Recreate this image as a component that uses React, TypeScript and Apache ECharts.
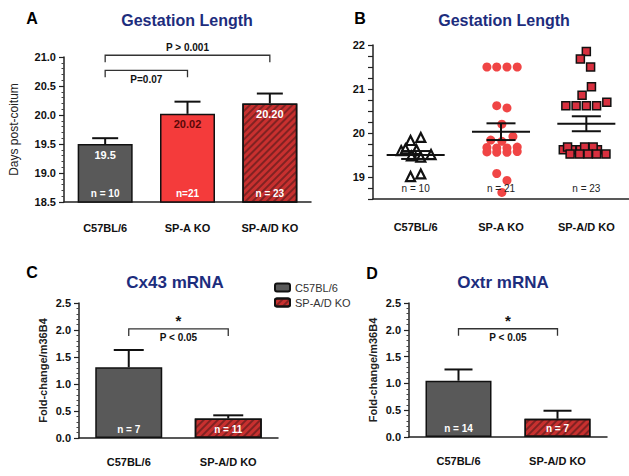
import React, { useEffect, useRef } from 'react';
import * as echarts from 'echarts';

// ---------- Data ----------
const gestCategories = ['C57BL/6', 'SP-A KO', 'SP-A/D KO'];
const gestMeans = [19.5, 20.02, 20.2];
const gestSem = [0.1, 0.21, 0.17];
const gestValueLabels = ['19.5', '20.02', '20.20'];
const gestNLabels = ['n = 10', 'n=21', 'n = 23'];

// Panel B: individual pups [jitter offset from category centre, days]
const wtPoints = [
  [-0.06, 19.83], [0.06, 19.9], [-0.17, 19.6], [-0.12, 19.64], [0.01, 19.62],
  [-0.05, 19.48], [0.06, 19.45], [0.18, 19.51], [-0.06, 19.01], [0.06, 19.07],
];
const spaPoints = [
  [-0.165, 21.5], [-0.05, 21.5], [0.07, 21.5], [0.19, 21.5],
  [-0.05, 20.62], [0.07, 20.57], [0.01, 20.2],
  [0.14, 19.92], [-0.12, 19.84], [0.01, 19.81],
  [-0.165, 19.67], [-0.05, 19.66], [0.07, 19.66], [0.19, 19.68],
  [-0.165, 19.57], [-0.05, 19.56], [0.07, 19.56], [0.19, 19.58],
  [-0.05, 19.08], [0.07, 18.92], [0.01, 18.65],
];
const spadPoints = [
  [0.0, 21.85], [-0.07, 21.68], [0.05, 21.5],
  [0.06, 21.05], [-0.05, 20.86],
  [-0.24, 20.62], [-0.12, 20.62], [0.0, 20.62], [0.12, 20.62], [0.24, 20.7],
  [-0.27, 19.62], [-0.17, 19.62], [-0.07, 19.62], [0.02, 19.62], [0.13, 19.62],
  [-0.22, 19.68], [-0.02, 19.68], [0.08, 19.68],
  [-0.19, 19.52], [-0.08, 19.52], [0.02, 19.52], [0.12, 19.52], [0.23, 19.52],
];
const scatterMeans = [19.5, 20.03, 20.21];
const scatterSem = [0.09, 0.19, 0.17];
const scatterNLabels = ['n = 10', 'n = 21', 'n = 23'];

const mrnaCategories = ['C57BL/6', 'SP-A/D KO'];
const cx43Means = [1.31, 0.36];
const cx43Sem = [0.32, 0.06];
const cx43NLabels = ['n = 7', 'n = 11'];
const oxtrMeans = [1.05, 0.34];
const oxtrSem = [0.21, 0.15];
const oxtrNLabels = ['n = 14', 'n = 7'];

// ---------- Styles ----------
const FONT = '"Liberation Sans", Arial, sans-serif';
const NAVY = '#1d2d7d';
const GRAY = '#595959';
const RED = '#f43b3b';
const HATCH_BASE = '#c8302f';
const hatchDecal = {
  symbol: 'rect',
  symbolSize: 1,
  color: 'rgba(80,25,25,0.6)',
  dashArrayX: [1, 0],
  dashArrayY: [2, 3],
  rotation: -Math.PI / 4,
};

const errRender = (capPx: number) => (params: any, api: any) => {
  const x = api.value(0), m = api.value(1), e = api.value(2);
  const p0 = api.coord([x, m]);
  const p1 = api.coord([x, m + e]);
  const st = { stroke: '#111', lineWidth: 2 };
  return {
    type: 'group',
    children: [
      { type: 'line', shape: { x1: p0[0], y1: p0[1], x2: p1[0], y2: p1[1] }, style: st },
      { type: 'line', shape: { x1: p1[0] - capPx / 2, y1: p1[1], x2: p1[0] + capPx / 2, y2: p1[1] }, style: st },
    ],
  };
};

const textRender = (labels: string[], color: string, size: number, weight: string) => (params: any, api: any) => {
  const p = api.coord([api.value(0), api.value(1)]);
  return {
    type: 'text',
    x: p[0],
    y: p[1],
    style: {
      text: labels[params.dataIndex],
      fill: color,
      font: `${weight} ${size}px ${FONT}`,
      align: 'center',
      verticalAlign: 'middle',
    },
  };
};

const bracketRender = (texts: string[], below: boolean[], star: boolean) => (params: any, api: any) => {
  const i = params.dataIndex;
  const a = api.coord([api.value(0), api.value(2)]);
  const b = api.coord([api.value(1), api.value(2)]);
  const tick = 7;
  const mid = (a[0] + b[0]) / 2;
  const children: any[] = [
    {
      type: 'polyline',
      shape: { points: [[a[0], a[1] + tick], [a[0], a[1]], [b[0], b[1]], [b[0], b[1] + tick]] },
      style: { stroke: '#333', lineWidth: 1.3, fill: null },
    },
    {
      type: 'text',
      x: mid,
      y: below[i] ? a[1] + 9 : a[1] - 8,
      style: { text: texts[i], fill: '#111', font: `bold 10px ${FONT}`, align: 'center', verticalAlign: 'middle' },
    },
  ];
  if (star) {
    children.push({
      type: 'text',
      x: mid,
      y: a[1] - 8,
      style: { text: '*', fill: '#111', font: `bold 15px ${FONT}`, align: 'center', verticalAlign: 'middle' },
    });
  }
  return { type: 'group', children };
};

const meanRender = (params: any, api: any) => {
  const x = api.value(0), m = api.value(1), s = api.value(2);
  const L = api.coord([x - 0.34, m]);
  const R = api.coord([x + 0.34, m]);
  const T = api.coord([x, m + s]);
  const B = api.coord([x, m - s]);
  const tl = api.coord([x - 0.17, m + s]);
  const tr = api.coord([x + 0.17, m + s]);
  const bl = api.coord([x - 0.17, m - s]);
  const br = api.coord([x + 0.17, m - s]);
  const st = { stroke: '#111', lineWidth: 2 };
  return {
    type: 'group',
    children: [
      { type: 'line', shape: { x1: L[0], y1: L[1], x2: R[0], y2: R[1] }, style: st },
      { type: 'line', shape: { x1: T[0], y1: T[1], x2: B[0], y2: B[1] }, style: st },
      { type: 'line', shape: { x1: tl[0], y1: tl[1], x2: tr[0], y2: tr[1] }, style: st },
      { type: 'line', shape: { x1: bl[0], y1: bl[1], x2: br[0], y2: br[1] }, style: st },
    ],
  };
};

const axisLineStyle = { onZero: false, lineStyle: { color: '#222', width: 1.5 } };

const catAxis = (gridIndex: number, data: string[], margin: number) => ({
  type: 'category',
  gridIndex,
  data,
  axisLine: axisLineStyle,
  axisTick: { alignWithLabel: true, length: 5, lineStyle: { color: '#222', width: 1.2 } },
  axisLabel: { fontWeight: 'bold', fontSize: 11, color: '#111', margin, fontFamily: FONT },
});

const valAxis = (gridIndex: number, min: number, max: number, interval: number, name: string, nameGap: number, fmt: (v: number) => string, minorSplit: number) => ({
  type: 'value',
  gridIndex,
  min,
  max,
  interval,
  name,
  nameLocation: 'middle',
  nameGap,
  nameTextStyle: { fontSize: name === 'Days post-coitum' ? 12 : 11, color: '#222', fontFamily: FONT, fontWeight: name === 'Days post-coitum' ? 'normal' : 'bold' },
  axisLine: { show: true, ...axisLineStyle },
  axisTick: { show: true, length: 5, lineStyle: { color: '#222', width: 1.2 } },
  minorTick: { show: minorSplit > 0, splitNumber: minorSplit || 5, length: 2.5, lineStyle: { color: '#444', width: 1 } },
  splitLine: { show: false },
  axisLabel: { fontWeight: 'bold', fontSize: 11, color: '#111', margin: 8, fontFamily: FONT, formatter: fmt },
});

export default function App() {
  const ref = useRef<HTMLDivElement>(null);
  useEffect(() => {
    if (!ref.current) return;
    const chart = echarts.init(ref.current, undefined, { renderer: 'svg' });
    const fmt1 = (v: number) => v.toFixed(1);
    const fmtInt = (v: number) => (Math.abs(v - Math.round(v)) < 1e-6 ? String(Math.round(v)) : '');

    const option: any = {
      animation: false,
      backgroundColor: '#fff',
      textStyle: { fontFamily: FONT },
      legend: {
        data: ['C57BL/6', 'SP-A/D KO'],
        orient: 'vertical',
        left: 269,
        top: 277,
        itemWidth: 15,
        itemHeight: 8,
        itemGap: 4,
        selectedMode: false,
        textStyle: { fontSize: 11, color: '#333', fontFamily: FONT },
      },
      graphic: [
        { type: 'text', x: 32, y: 18, style: { text: 'A', font: `bold 16px ${FONT}`, fill: '#000', align: 'center', verticalAlign: 'middle' } },
        { type: 'text', x: 187, y: 20, style: { text: 'Gestation Length', font: `bold 16px ${FONT}`, fill: NAVY, align: 'center', verticalAlign: 'middle' } },
        { type: 'text', x: 360, y: 18, style: { text: 'B', font: `bold 16px ${FONT}`, fill: '#000', align: 'center', verticalAlign: 'middle' } },
        { type: 'text', x: 504, y: 20, style: { text: 'Gestation Length', font: `bold 16px ${FONT}`, fill: NAVY, align: 'center', verticalAlign: 'middle' } },
        { type: 'text', x: 32, y: 272, style: { text: 'C', font: `bold 16px ${FONT}`, fill: '#000', align: 'center', verticalAlign: 'middle' } },
        { type: 'text', x: 175, y: 282, style: { text: 'Cx43 mRNA', font: `bold 17px ${FONT}`, fill: NAVY, align: 'center', verticalAlign: 'middle' } },
        { type: 'text', x: 372, y: 273, style: { text: 'D', font: `bold 16px ${FONT}`, fill: '#000', align: 'center', verticalAlign: 'middle' } },
        { type: 'text', x: 503, y: 282, style: { text: 'Oxtr mRNA', font: `bold 17px ${FONT}`, fill: NAVY, align: 'center', verticalAlign: 'middle' } },
      ],
      grid: [
        { left: 64, top: 57, width: 247, height: 145 },
        { left: 373, top: 45, width: 258, height: 154 },
        { left: 79, top: 303, width: 199, height: 135 },
        { left: 409, top: 303, width: 198, height: 134 },
      ],
      xAxis: [
        catAxis(0, gestCategories, 20),
        catAxis(1, gestCategories, 22),
        { type: 'value', gridIndex: 1, min: -0.5, max: 2.5, show: false, axisLine: { onZero: false } },
        catAxis(2, mrnaCategories, 18),
        catAxis(3, mrnaCategories, 18),
      ],
      yAxis: [
        valAxis(0, 18.5, 21, 0.5, 'Days post-coitum', 44, fmt1, 5),
        valAxis(1, 18.5, 22, 0.25, '', 30, fmtInt, 0),
        valAxis(2, 0, 2.5, 0.5, 'Fold-change/m36B4', 31, fmt1, 5),
        valAxis(3, 0, 2.5, 0.5, 'Fold-change/m36B4', 31, fmt1, 5),
      ],
      series: [
        // ----- Panel A -----
        {
          type: 'bar',
          name: 'gestA',
          xAxisIndex: 0,
          yAxisIndex: 0,
          barWidth: 55,
          data: gestMeans.map((v, i) => ({
            value: v,
            itemStyle:
              i === 0
                ? { color: GRAY, borderColor: '#111', borderWidth: 1.5 }
                : i === 1
                ? { color: RED, borderColor: '#111', borderWidth: 1.5 }
                : { color: HATCH_BASE, borderColor: '#111', borderWidth: 1.5, decal: hatchDecal },
            label: { color: i === 1 ? '#5a0808' : '#fff' },
          })),
          label: {
            show: true,
            position: 'insideTop',
            distance: 5,
            fontWeight: 'bold',
            fontSize: 11,
            fontFamily: FONT,
            formatter: (p: any) => gestValueLabels[p.dataIndex],
          },
        },
        {
          type: 'custom',
          xAxisIndex: 0,
          yAxisIndex: 0,
          z: 3,
          renderItem: errRender(26),
          data: gestMeans.map((m, i) => [i, m, gestSem[i]]),
        },
        {
          type: 'custom',
          xAxisIndex: 0,
          yAxisIndex: 0,
          z: 4,
          renderItem: textRender(gestNLabels, '#fff', 10, 'bold'),
          data: gestNLabels.map((_, i) => [i, 18.64]),
        },
        {
          type: 'custom',
          xAxisIndex: 0,
          yAxisIndex: 0,
          z: 4,
          renderItem: bracketRender(['P > 0.001', 'P=0.07'], [false, true], false),
          data: [
            [0, 2, 21.03],
            [0, 1, 20.77],
          ],
        },
        // ----- Panel B -----
        {
          type: 'scatter',
          xAxisIndex: 2,
          yAxisIndex: 1,
          symbol: 'triangle',
          symbolSize: 9,
          itemStyle: { color: '#fff', borderColor: '#111', borderWidth: 2.2, opacity: 1 },
          data: wtPoints.map(([dx, v]) => [0 + dx, v]),
        },
        {
          type: 'scatter',
          xAxisIndex: 2,
          yAxisIndex: 1,
          symbol: 'circle',
          symbolSize: 9,
          itemStyle: { color: '#f04545', opacity: 1 },
          data: spaPoints.map(([dx, v]) => [1 + dx, v]),
        },
        {
          type: 'scatter',
          xAxisIndex: 2,
          yAxisIndex: 1,
          symbol: 'rect',
          symbolSize: 8,
          itemStyle: { color: '#d8303f', borderColor: '#111', borderWidth: 1.5, opacity: 1 },
          data: spadPoints.map(([dx, v]) => [2 + dx, v]),
        },
        {
          type: 'custom',
          xAxisIndex: 2,
          yAxisIndex: 1,
          z: 5,
          renderItem: meanRender,
          data: scatterMeans.map((m, i) => [i, m, scatterSem[i]]),
        },
        {
          type: 'custom',
          xAxisIndex: 2,
          yAxisIndex: 1,
          z: 5,
          renderItem: textRender(scatterNLabels, '#222', 10, 'normal'),
          data: scatterNLabels.map((_, i) => [i, 18.73]),
        },
        // ----- Panel C -----
        {
          type: 'bar',
          name: 'C57BL/6',
          xAxisIndex: 3,
          yAxisIndex: 2,
          barWidth: 67,
          barGap: '-100%',
          itemStyle: { color: GRAY, borderColor: '#111', borderWidth: 1.5 },
          data: [cx43Means[0], '-'],
        },
        {
          type: 'bar',
          name: 'SP-A/D KO',
          xAxisIndex: 3,
          yAxisIndex: 2,
          barWidth: 67,
          barGap: '-100%',
          itemStyle: { color: HATCH_BASE, borderColor: '#111', borderWidth: 1.5, decal: hatchDecal },
          data: ['-', cx43Means[1]],
        },
        {
          type: 'custom',
          xAxisIndex: 3,
          yAxisIndex: 2,
          z: 3,
          renderItem: errRender(30),
          data: cx43Means.map((m, i) => [i, m, cx43Sem[i]]),
        },
        {
          type: 'custom',
          xAxisIndex: 3,
          yAxisIndex: 2,
          z: 4,
          renderItem: textRender(cx43NLabels, '#fff', 10, 'bold'),
          data: cx43NLabels.map((_, i) => [i, 0.15]),
        },
        {
          type: 'custom',
          xAxisIndex: 3,
          yAxisIndex: 2,
          z: 4,
          renderItem: bracketRender(['P < 0.05'], [true], true),
          data: [[0, 1, 2.02]],
        },
        // ----- Panel D -----
        {
          type: 'bar',
          name: 'C57BL/6',
          xAxisIndex: 4,
          yAxisIndex: 3,
          barWidth: 66,
          barGap: '-100%',
          itemStyle: { color: GRAY, borderColor: '#111', borderWidth: 1.5 },
          data: [oxtrMeans[0], '-'],
        },
        {
          type: 'bar',
          name: 'SP-A/D KO',
          xAxisIndex: 4,
          yAxisIndex: 3,
          barWidth: 66,
          barGap: '-100%',
          itemStyle: { color: HATCH_BASE, borderColor: '#111', borderWidth: 1.5, decal: hatchDecal },
          data: ['-', oxtrMeans[1]],
        },
        {
          type: 'custom',
          xAxisIndex: 4,
          yAxisIndex: 3,
          z: 3,
          renderItem: errRender(28),
          data: oxtrMeans.map((m, i) => [i, m, oxtrSem[i]]),
        },
        {
          type: 'custom',
          xAxisIndex: 4,
          yAxisIndex: 3,
          z: 4,
          renderItem: textRender(oxtrNLabels, '#fff', 10, 'bold'),
          data: oxtrNLabels.map((_, i) => [i, 0.15]),
        },
        {
          type: 'custom',
          xAxisIndex: 4,
          yAxisIndex: 3,
          z: 4,
          renderItem: bracketRender(['P < 0.05'], [true], true),
          data: [[0, 1, 2.02]],
        },
      ],
    };
    chart.setOption(option);
    return () => chart.dispose();
  }, []);
  return (
    <div
      ref={ref}
      style={{ position: 'fixed', left: 0, top: 0, width: 629, height: 476, background: '#fff' }}
    />
  );
}
